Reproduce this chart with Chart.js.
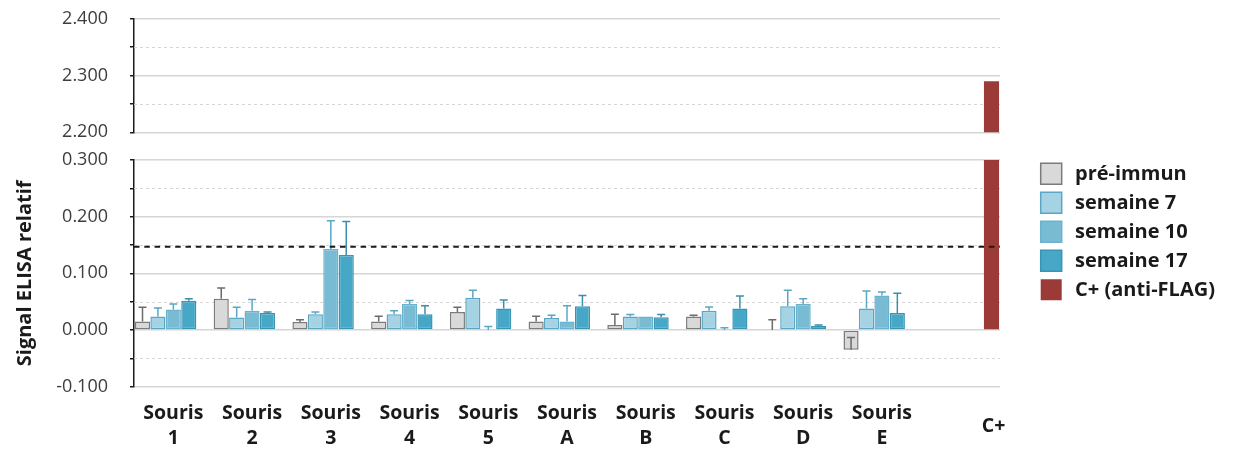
<!DOCTYPE html>
<html>
<head>
<meta charset="utf-8">
<script src="https://cdn.jsdelivr.net/npm/chart.js@4.4.1/dist/chart.umd.min.js"></script>
<style>
html,body{margin:0;padding:0;background:#fff;}
#wrap{position:relative;width:1236px;height:452px;overflow:hidden;}
#wrap canvas{position:absolute;left:0;top:0;}
</style>
</head>
<body>
<div id="wrap">
  <canvas id="lower" width="1236" height="452"></canvas>
  <canvas id="upper" width="1236" height="452"></canvas>
</div>
<script>
// ---------- DATA ----------
const categories = [
  ['Souris','1'], ['Souris','2'], ['Souris','3'], ['Souris','4'], ['Souris','5'],
  ['Souris','A'], ['Souris','B'], ['Souris','C'], ['Souris','D'], ['Souris','E'],
  '             C+'
];
const seriesNames = ['pré-immun', 'semaine 7', 'semaine 10', 'semaine 17', 'C+ (anti-FLAG)'];

const preImmun    = [0.015, 0.055, 0.014, 0.015, 0.032, 0.015, 0.009, 0.024, 0.000, -0.035, null];
const preImmunErr = [0.025, 0.019, 0.004, 0.0095, 0.008, 0.0095, 0.019, 0.002, 0.018, 0.022, null];
const sem7        = [0.024, 0.022, 0.028, 0.028, 0.057, 0.021, 0.024, 0.034, 0.042, 0.038, null];
const sem7Err     = [0.015, 0.018, 0.004, 0.006, 0.013, 0.005, 0.0035, 0.0065, 0.028, 0.031, null];
const sem10       = [0.036, 0.034, 0.143, 0.046, 0.000, 0.015, 0.024, 0.000, 0.046, 0.061, null];
const sem10Err    = [0.010, 0.020, 0.050, 0.006, 0.006, 0.028, 0.000, 0.004, 0.009, 0.006, null];
const sem17       = [0.0515, 0.030, 0.1325, 0.028, 0.038, 0.042, 0.0225, 0.038, 0.007, 0.030, null];
const sem17Err    = [0.0035, 0.002, 0.059, 0.015, 0.015, 0.019, 0.005, 0.022, 0.002, 0.035, null];
const cPlus       = [null, null, null, null, null, null, null, null, null, null, 2.29];
const threshold   = 0.147;

const lowerRange = [-0.1, 0.3];
const upperRange = [2.2, 2.4];
const tickStep = 0.05;

// ---------- STYLE ----------
const FONT = "'Open Sans', 'Noto Sans', sans-serif";
const TEXT = '#1a1a1a';
const GRID = '#d6d6d6';
const TRANSPARENT = 'rgba(0,0,0,0)';

Chart.defaults.font.family = FONT;
Chart.defaults.animation = false;

const isMajor = v => Math.abs(v * 10 - Math.round(v * 10)) < 1e-6;

function makeDatasets(){
  const spec = [
    {data: preImmun, err: preImmunErr, bg: '#d9d9d9', bd: '#7b7b7b', ec: '#6b6b6b', bw: 1.5},
    {data: sem7,     err: sem7Err,     bg: '#a6d3e3', bd: '#5ba7c3', ec: '#5ba7c3', bw: 1.5},
    {data: sem10,    err: sem10Err,    bg: '#78bbd3', bd: '#6ab3ce', ec: '#58a9c6', bw: 1.5},
    {data: sem17,    err: sem17Err,    bg: '#46a7c6', bd: '#3a95b2', ec: '#3a90ac', bw: 1.5},
    {data: cPlus,    err: null,        bg: '#9b3a37', bd: '#9b3a37', ec: null,      bw: 0}
  ];
  return spec.map((s, i) => ({
    label: seriesNames[i],
    data: s.data.slice(),
    errorBars: s.err ? s.err.slice() : null,
    errorColor: s.ec,
    backgroundColor: s.bg,
    borderColor: s.bd,
    borderWidth: s.bw,
    borderSkipped: false,
    categoryPercentage: 0.98,
    barPercentage: 0.98,
    xAxisID: 'x',
    yAxisID: 'y'
  }));
}

function mainY(range, title){
  return {
    type: 'linear', position: 'left', min: range[0], max: range[1],
    afterFit: s => { s.width = 134; s.paddingTop = 8; s.paddingBottom = 8; },
    ticks: {
      stepSize: tickStep, padding: 22, color: '#3d3d3d', autoSkip: false,
      font: {family: FONT, size: 18},
      callback: v => isMajor(v) ? v.toFixed(3) : ''
    },
    grid: {
      color: c => (c.tick && isMajor(c.tick.value)) ? GRID : TRANSPARENT,
      lineWidth: 1.5, tickColor: TEXT, tickLength: 4, tickWidth: 1.5
    },
    border: {color: TEXT, width: 1.5},
    title: title ? {
      display: true, text: title, color: TEXT,
      font: {family: FONT, size: 20, weight: 'bold'},
      padding: {top: 13, bottom: 0}
    } : {display: false}
  };
}

// dashed minor gridlines at the half steps of the y scale
const minorGridPlugin = {
  id: 'minorGrid',
  beforeDatasetsDraw(chart){
    const {ctx, chartArea} = chart;
    const y = chart.scales.y;
    ctx.save();
    ctx.strokeStyle = GRID;
    ctx.lineWidth = 1;
    ctx.setLineDash([3, 3]);
    y.ticks.forEach(t => {
      if (isMajor(t.value)) return;
      const py = Math.round(y.getPixelForValue(t.value)) + 0.5;
      ctx.beginPath();
      ctx.moveTo(chartArea.left, py);
      ctx.lineTo(chartArea.right, py);
      ctx.stroke();
    });
    ctx.restore();
  }
};

const errorBarPlugin = {
  id: 'errorBars',
  afterDatasetsDraw(chart){
    const {ctx, chartArea} = chart;
    const y = chart.scales.y;
    ctx.save();
    ctx.beginPath();
    ctx.rect(chartArea.left, chartArea.top, chartArea.right - chartArea.left, chartArea.bottom - chartArea.top);
    ctx.clip();
    chart.data.datasets.forEach((ds, di) => {
      if (!ds.errorBars) return;
      const meta = chart.getDatasetMeta(di);
      meta.data.forEach((bar, i) => {
        const v = ds.data[i], e = ds.errorBars[i];
        if (v == null || e == null || e <= 0) return;
        const x = bar.x;
        const y0 = y.getPixelForValue(v);
        const y1 = y.getPixelForValue(v + e);
        ctx.strokeStyle = ds.errorColor;
        ctx.lineWidth = 1.5;
        ctx.beginPath();
        ctx.moveTo(x, y0); ctx.lineTo(x, y1);
        ctx.moveTo(x - 4, y1); ctx.lineTo(x + 4, y1);
        ctx.stroke();
      });
    });
    ctx.restore();
  }
};

const thresholdPlugin = {
  id: 'thresholdLine',
  afterDatasetsDraw(chart){
    const {ctx, chartArea} = chart;
    const py = chart.scales.y.getPixelForValue(threshold);
    ctx.save();
    ctx.strokeStyle = TEXT;
    ctx.lineWidth = 2;
    ctx.setLineDash([5.5, 4.8]);
    ctx.beginPath();
    ctx.moveTo(chartArea.left, py);
    ctx.lineTo(chartArea.right, py);
    ctx.stroke();
    ctx.restore();
  }
};

// ---------- LOWER CHART ----------
const PLOT_RIGHT = 1000;
const SPACER_RIGHT = 32.7;
const lower = new Chart(document.getElementById('lower'), {
  type: 'bar',
  data: {labels: categories, datasets: makeDatasets()},
  options: {
    responsive: false, devicePixelRatio: 1, animation: false,
    layout: {padding: {top: 155.3, bottom: 5.3, left: 0, right: 0}},
    plugins: {
      tooltip: {enabled: false},
      legend: {
        position: 'right', align: 'start',
        labels: {
          boxWidth: 21, boxHeight: 21, padding: 8, color: TEXT,
          font: {family: FONT, size: 20, weight: 'bold'},
          generateLabels: chart => Chart.defaults.plugins.legend.labels.generateLabels(chart)
            .map(l => Object.assign(l, {text: '\u2009' + l.text}))
        }
      }
    },
    scales: {
      x: {
        type: 'category', position: 'bottom', offset: true,
        grid: {display: false}, border: {display: false},
        afterFit: s => { s.height = 60; },
        ticks: {
          color: TEXT, padding: 19, crossAlign: 'center', autoSkip: false,
          maxRotation: 0, minRotation: 0,
          font: {family: FONT, size: 19.5, weight: 'bold', lineHeight: 1.28}
        }
      },
      xs: {
        type: 'category', position: 'top',
        grid: {display: false}, border: {display: false}, ticks: {display: false},
        afterFit: s => { s.height = 4.7; }
      },
      y: mainY(lowerRange, 'Signal ELISA relatif'),
      ys: {
        type: 'linear', position: 'right',
        grid: {display: false}, border: {display: false}, ticks: {display: false},
        afterFit: s => { s.width = SPACER_RIGHT; }
      }
    }
  },
  plugins: [minorGridPlugin, errorBarPlugin, thresholdPlugin]
});
const delta = lower.chartArea.right - PLOT_RIGHT;
if (Math.abs(delta) > 0.01) {
  lower.options.layout.padding.right = Math.max(0, delta);
  lower.update();
}

// ---------- UPPER CHART ----------
const upper = new Chart(document.getElementById('upper'), {
  type: 'bar',
  data: {labels: categories, datasets: makeDatasets()},
  options: {
    responsive: false, devicePixelRatio: 1, animation: false,
    layout: {padding: {top: 18.7, bottom: 452 - 132.3, left: 0, right: 1236 - PLOT_RIGHT}},
    plugins: {tooltip: {enabled: false}, legend: {display: false}},
    scales: {
      x: {type: 'category', display: false, offset: true},
      y: mainY(upperRange, null)
    }
  },
  plugins: [minorGridPlugin]
});
</script>
</body>
</html>
